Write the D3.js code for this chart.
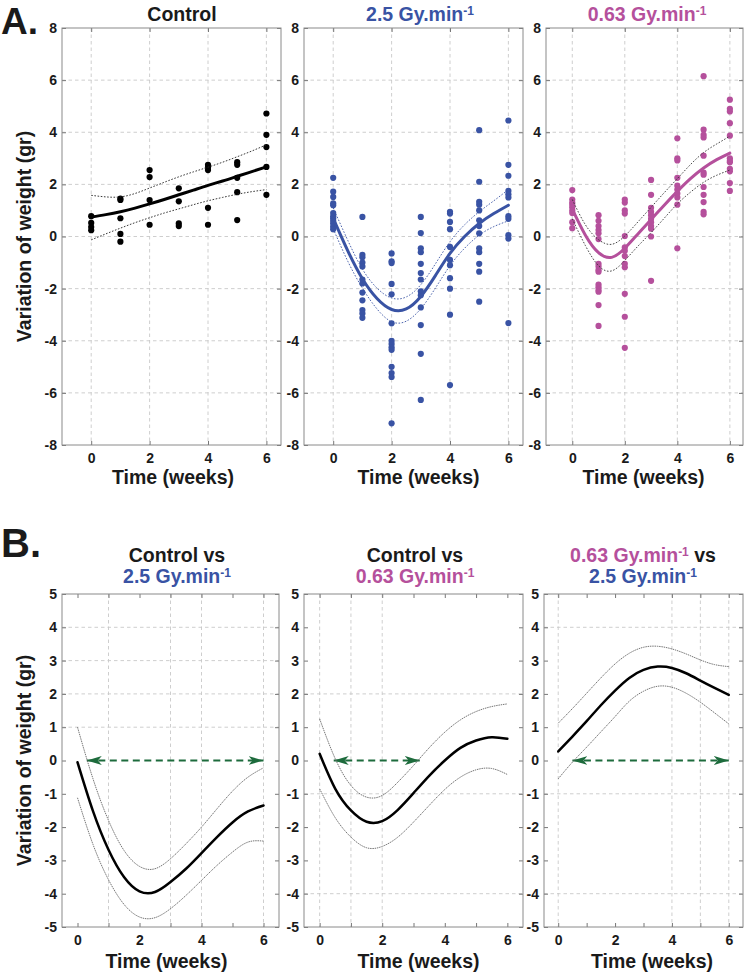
<!DOCTYPE html>
<html><head><meta charset="utf-8">
<script src="https://cdn.jsdelivr.net/npm/d3@7"></script>
<style>
body{margin:0;background:#fff}
svg{display:block}
text{font-family:"Liberation Sans",Arial,Helvetica,sans-serif;font-weight:bold}
</style>
</head><body>
<svg id="c" width="745" height="974"></svg>
<script>
// ---------------- DATA ----------------
const weeks = [0, 1, 2, 3, 4, 5, 6];
const fitTimes = [0, 0.5, 1, 1.5, 2, 2.5, 3, 3.5, 4, 4.5, 5, 5.5, 6];

// Panel A: individual weight variations (gr) per week
const controlPoints = [
  [0.78, 0.52, 0.36, 0.24],
  [1.45, 1.4, 0.7, 0.1, -0.2],
  [2.55, 2.28, 1.4, 0.45],
  [1.85, 1.35, 0.5, 0.4],
  [2.75, 2.65, 2.55, 1.1, 0.45],
  [2.85, 2.75, 2.25, 1.7, 0.63],
  [4.72, 3.9, 3.43, 2.67, 1.6]
];
const gy25Points = [
  [2.25, 1.72, 1.52, 1.27, 1.2, 0.9, 0.78, 0.7, 0.6, 0.5, 0.38, 0.28],
  [0.75, -0.7, -0.8, -1.0, -1.15, -1.65, -1.8, -2.15, -2.45, -2.82, -2.95, -3.12],
  [-0.65, -0.95, -1.02, -1.82, -2.22, -3.33, -4.0, -4.12, -4.25, -4.35, -5.0, -5.24, -5.39, -7.17],
  [0.75, 0.13, -0.45, -0.6, -1.05, -1.4, -1.65, -2.1, -2.25, -2.72, -3.4, -4.5, -6.27],
  [0.95, 0.88, 0.56, 0.28, -0.4, -0.9, -1.1, -1.6, -2.0, -3.0, -5.7],
  [4.08, 2.1, 1.33, 1.22, 1.0, 0.62, 0.4, 0.12, -0.45, -0.6, -1.05, -1.35, -2.5],
  [4.45, 2.75, 2.33, 1.75, 1.62, 1.5, 0.78, 0.68, 0.05, -0.08, -3.32]
];
const gy063Points = [
  [1.78, 1.42, 1.3, 1.22, 1.12, 1.0, 0.9, 0.55, 0.32],
  [0.82, 0.6, 0.4, 0.25, 0.12, -0.1, -1.05, -1.15, -1.28, -1.35, -1.85, -1.95, -2.05, -2.12, -2.63, -3.43],
  [1.42, 1.3, 1.0, 0.88, 0.02, -0.42, -0.55, -0.75, -1.05, -1.18, -2.2, -3.08, -4.27],
  [2.17, 1.6, 1.1, 0.95, 0.82, 0.68, 0.55, 0.4, 0.3, 0.0, -1.7],
  [3.77, 3.0, 2.92, 2.25, 1.95, 1.8, 1.65, 1.5, 1.22, -0.45],
  [6.15, 4.1, 3.9, 3.8, 3.1, 2.45, 2.37, 1.9, 1.6, 1.32, 0.95, 0.85],
  [5.25, 4.9, 4.8, 4.35, 3.87, 3.0, 2.9, 2.85, 2.6, 2.5, 2.05, 1.75]
];

// Panel A: fitted curves and confidence bands (values at fitTimes)
const controlFit   = [0.75, 0.84, 0.95, 1.09, 1.25, 1.42, 1.6, 1.78, 1.96, 2.13, 2.31, 2.49, 2.67];
const controlUpper = [1.58, 1.52, 1.52, 1.65, 1.86, 2.08, 2.29, 2.48, 2.66, 2.85, 3.06, 3.28, 3.52];
const controlLower = [-0.13, 0.1, 0.32, 0.53, 0.72, 0.9, 1.06, 1.22, 1.37, 1.5, 1.62, 1.72, 1.8];
const gy25Fit   = [0.7, -0.55, -1.62, -2.38, -2.8, -2.78, -2.3, -1.5, -0.65, 0.0, 0.5, 0.88, 1.2];
const gy25Upper = [1.1, -0.15, -1.25, -1.98, -2.36, -2.32, -1.85, -1.05, -0.2, 0.45, 0.95, 1.37, 1.8];
const gy25Lower = [0.3, -0.95, -1.98, -2.78, -3.27, -3.25, -2.77, -1.98, -1.12, -0.45, 0.05, 0.38, 0.6];
const gy063Fit   = [1.05, 0.05, -0.62, -0.8, -0.45, 0.1, 0.65, 1.2, 1.73, 2.22, 2.63, 2.95, 3.2];
const gy063Upper = [1.42, 0.45, -0.12, -0.3, 0.02, 0.56, 1.12, 1.68, 2.22, 2.76, 3.22, 3.55, 3.85];
const gy063Lower = [0.68, -0.35, -1.12, -1.32, -0.92, -0.37, 0.15, 0.7, 1.25, 1.7, 2.08, 2.35, 2.55];

// Panel B: differences between groups
const diffCtl25   = [-0.05, -1.52, -2.68, -3.5, -3.93, -3.95, -3.65, -3.25, -2.78, -2.3, -1.86, -1.53, -1.35];
const diffCtl25Up = [1.0, -0.55, -1.8, -2.7, -3.18, -3.25, -2.95, -2.5, -2.0, -1.45, -0.92, -0.5, -0.22];
const diffCtl25Lo = [-1.12, -2.52, -3.58, -4.32, -4.7, -4.72, -4.45, -4.05, -3.6, -3.15, -2.75, -2.45, -2.42];
const diffCtl063   = [0.2, -0.85, -1.5, -1.84, -1.82, -1.48, -0.98, -0.46, 0.0, 0.38, 0.6, 0.7, 0.65];
const diffCtl063Up = [1.25, 0.05, -0.75, -1.1, -1.05, -0.65, -0.15, 0.38, 0.85, 1.22, 1.47, 1.62, 1.7];
const diffCtl063Lo = [-0.85, -1.72, -2.3, -2.62, -2.58, -2.3, -1.85, -1.35, -0.87, -0.5, -0.28, -0.24, -0.42];
const diff06325   = [0.27, 0.72, 1.18, 1.66, 2.1, 2.48, 2.72, 2.82, 2.78, 2.62, 2.4, 2.18, 1.97];
const diff06325Up = [1.12, 1.56, 2.02, 2.48, 2.9, 3.22, 3.4, 3.43, 3.35, 3.2, 3.02, 2.88, 2.82];
const diff06325Lo = [-0.55, -0.05, 0.4, 0.86, 1.32, 1.78, 2.08, 2.23, 2.2, 2.02, 1.75, 1.43, 1.1];
// significant-difference intervals (weeks) shown by arrows
const sigCtl25  = [0.3, 6.0];
const sigCtl063 = [0.45, 3.2];
const sig06325  = [0.5, 6.0];

const tickA_X = [0, 2, 4, 6];
const tickA_Y = [-8, -6, -4, -2, 0, 2, 4, 6, 8];
const tickB_X = [0, 1, 2, 3, 4, 5, 6];
const tickB_Y = [-5, -4, -3, -2, -1, 0, 1, 2, 3, 4, 5];

// ---------------- STYLE ----------------
const BLUE = "#3953a4", MAG = "#b5509c", GREEN = "#1d6b3c", K = "#1a1a1a";
const svg = d3.select("#c");

const defs = svg.append("defs");
defs.append("marker").attr("id", "ah")
  .attr("markerUnits", "userSpaceOnUse")
  .attr("markerWidth", 16).attr("markerHeight", 10)
  .attr("refX", 15).attr("refY", 4.5)
  .attr("orient", "auto-start-reverse")
  .append("path").attr("d", "M0,0 L15,4.5 L0,9 L4,4.5 Z").attr("fill", GREEN);

function addTitle(lines, xc, baselines) {
  lines.forEach((parts, i) => {
    const t = svg.append("text").attr("x", xc).attr("y", baselines[i])
      .attr("text-anchor", "middle").attr("font-size", 19.5);
    let pendingDy = 0;
    parts.forEach(p => {
      const s = t.append("tspan").attr("fill", p.c).text(p.t);
      if (pendingDy) { s.attr("dy", pendingDy); pendingDy = 0; }
      if (p.sup) {
        t.append("tspan").attr("fill", p.c).attr("font-size", 12).attr("dy", -6.5).text(p.sup);
        pendingDy = 6.5;
      }
    });
  });
}

function panel(cfg) {
  const x = d3.scaleLinear().domain(cfg.xDomain).range([cfg.left, cfg.right]);
  const y = d3.scaleLinear().domain(cfg.yDomain).range([cfg.bottom, cfg.top]);
  const g = svg.append("g");

  // grid
  g.selectAll(null).data(cfg.gridX).join("line")
    .attr("x1", d => x(d)).attr("x2", d => x(d))
    .attr("y1", cfg.top).attr("y2", cfg.bottom)
    .attr("stroke", "#c8c8c8").attr("stroke-width", 0.9).attr("stroke-dasharray", "3.5,3");
  g.selectAll(null).data(cfg.gridY).join("line")
    .attr("y1", d => y(d)).attr("y2", d => y(d))
    .attr("x1", cfg.left).attr("x2", cfg.right)
    .attr("stroke", "#c8c8c8").attr("stroke-width", 0.9).attr("stroke-dasharray", "3.5,3");

  // axes
  const fmtX = d => (d % 2 === 0 ? String(d) : "");
  const ax = [
    [d3.axisBottom(x).tickValues(cfg.xTicks).tickSize(-4).tickPadding(8).tickFormat(fmtX), `translate(0,${cfg.bottom})`],
    [d3.axisTop(x).tickValues(cfg.xTicks).tickSize(-4).tickFormat(""), `translate(0,${cfg.top})`],
    [d3.axisLeft(y).tickValues(cfg.yTicks).tickSize(-4).tickPadding(5).tickFormat(d => String(d)), `translate(${cfg.left},0)`],
    [d3.axisRight(y).tickValues(cfg.yTicks).tickSize(-4).tickFormat(""), `translate(${cfg.right},0)`]
  ];
  ax.forEach(([a, tr]) => {
    const ag = g.append("g").attr("transform", tr).call(a);
    ag.select(".domain").remove();
    ag.selectAll("line").attr("stroke", "#777");
    ag.selectAll("text").attr("font-size", 14).attr("fill", K)
      .attr("font-family", '"Liberation Sans",Arial,sans-serif').attr("font-weight", "bold");
  });
  g.append("rect").attr("x", cfg.left).attr("y", cfg.top)
    .attr("width", cfg.right - cfg.left).attr("height", cfg.bottom - cfg.top)
    .attr("fill", "none").attr("stroke", "#8a8a8a").attr("stroke-width", 1);

  const line = d3.line().x((d, i) => x(fitTimes[i])).y(d => y(d)).curve(d3.curveNatural);

  if (cfg.sig) {
    g.append("line").attr("x1", x(cfg.sig[0])).attr("x2", x(cfg.sig[1]))
      .attr("y1", y(0)).attr("y2", y(0))
      .attr("stroke", GREEN).attr("stroke-width", 1.8).attr("stroke-dasharray", "7,4.5")
      .attr("marker-start", "url(#ah)").attr("marker-end", "url(#ah)");
  }
  if (cfg.points) {
    cfg.points.forEach((vals, i) => {
      g.selectAll(null).data(vals).join("circle")
        .attr("cx", x(weeks[i])).attr("cy", d => y(d)).attr("r", 3.1)
        .attr("fill", cfg.color);
    });
  }
  [cfg.upper, cfg.lower].forEach(arr => {
    g.append("path").attr("d", line(arr)).attr("fill", "none")
      .attr("stroke", cfg.ciColor).attr("stroke-width", 0.9).attr("stroke-dasharray", cfg.ciDash);
  });
  g.append("path").attr("d", line(cfg.fit)).attr("fill", "none")
    .attr("stroke", cfg.color).attr("stroke-width", cfg.fitW).attr("stroke-linecap", "round");

  // x label
  svg.append("text").attr("x", cfg.xLabelX).attr("y", cfg.xLabelY)
    .attr("text-anchor", "middle").attr("font-size", 19.5).attr("fill", K).text("Time (weeks)");
}

// panel letters
svg.append("text").attr("x", 1).attr("y", 34).attr("font-size", 37).attr("fill", K).text("A.");
svg.append("text").attr("x", 1).attr("y", 557).attr("font-size", 40).attr("fill", K).text("B.");

// y labels
[236.5, 760.5].forEach(cy => {
  svg.append("text").attr("transform", `translate(31,${cy}) rotate(-90)`)
    .attr("text-anchor", "middle").attr("font-size", 19.5).attr("fill", K)
    .text("Variation of weight (gr)");
});

const A = { xDomain: [-1, 6.5], yDomain: [-8, 8], top: 28, bottom: 445, xTicks: tickA_X, yTicks: tickA_Y,
  gridX: [0, 2, 4, 6], gridY: [-6, -4, -2, 0, 2, 4, 6], xLabelY: 484, fitW: 3 };
panel(Object.assign({}, A, { left: 62, right: 281, points: controlPoints, fit: controlFit, upper: controlUpper, lower: controlLower,
  color: "#000", ciColor: "#222", ciDash: "1.6,1.6", xLabelX: 173 }));
panel(Object.assign({}, A, { left: 304, right: 523, points: gy25Points, fit: gy25Fit, upper: gy25Upper, lower: gy25Lower,
  color: BLUE, ciColor: BLUE, ciDash: "1.6,1.6", xLabelX: 418.5 }));
panel(Object.assign({}, A, { left: 546, right: 743, points: gy063Points, fit: gy063Fit, upper: gy063Upper, lower: gy063Lower,
  color: MAG, ciColor: "#333", ciDash: "1.6,1.6", xLabelX: 643.5 }));

const B = { xDomain: [-0.5, 6.5], yDomain: [-5, 5], top: 594, bottom: 927, xTicks: tickB_X, yTicks: tickB_Y,
  xLabelY: 968, fitW: 2.5, color: "#000", ciColor: "#666", ciDash: "1.5,0.8" };
panel(Object.assign({}, B, { left: 62, right: 279, gridX: [1, 3, 4, 6], gridY: [1, 2, 3, 4],
  fit: diffCtl25, upper: diffCtl25Up, lower: diffCtl25Lo, sig: sigCtl25, xLabelX: 166.5 }));
panel(Object.assign({}, B, { left: 304, right: 523, gridX: [0, 1, 2], gridY: [2, -1, -4],
  fit: diffCtl063, upper: diffCtl063Up, lower: diffCtl063Lo, sig: sigCtl063, xLabelX: 418.5 }));
panel(Object.assign({}, B, { left: 544, right: 743, gridX: [0, 4, 5, 6], gridY: [4, -1, -4],
  fit: diff06325, upper: diff06325Up, lower: diff06325Lo, sig: sig06325, xLabelX: 652 }));

// titles
addTitle([[{ t: "Control", c: K }]], 182, [21]);
addTitle([[{ t: "2.5 Gy.min", c: BLUE, sup: "-1" }]], 420, [21]);
addTitle([[{ t: "0.63 Gy.min", c: MAG, sup: "-1" }]], 647, [21]);
addTitle([[{ t: "Control vs", c: K }], [{ t: "2.5 Gy.min", c: BLUE, sup: "-1" }]], 177, [562, 583]);
addTitle([[{ t: "Control vs", c: K }], [{ t: "0.63 Gy.min", c: MAG, sup: "-1" }]], 415, [562, 583]);
addTitle([[{ t: "0.63 Gy.min", c: MAG, sup: "-1" }, { t: " vs", c: K }], [{ t: "2.5 Gy.min", c: BLUE, sup: "-1" }]], 643, [562, 583]);
</script>
</body></html>
